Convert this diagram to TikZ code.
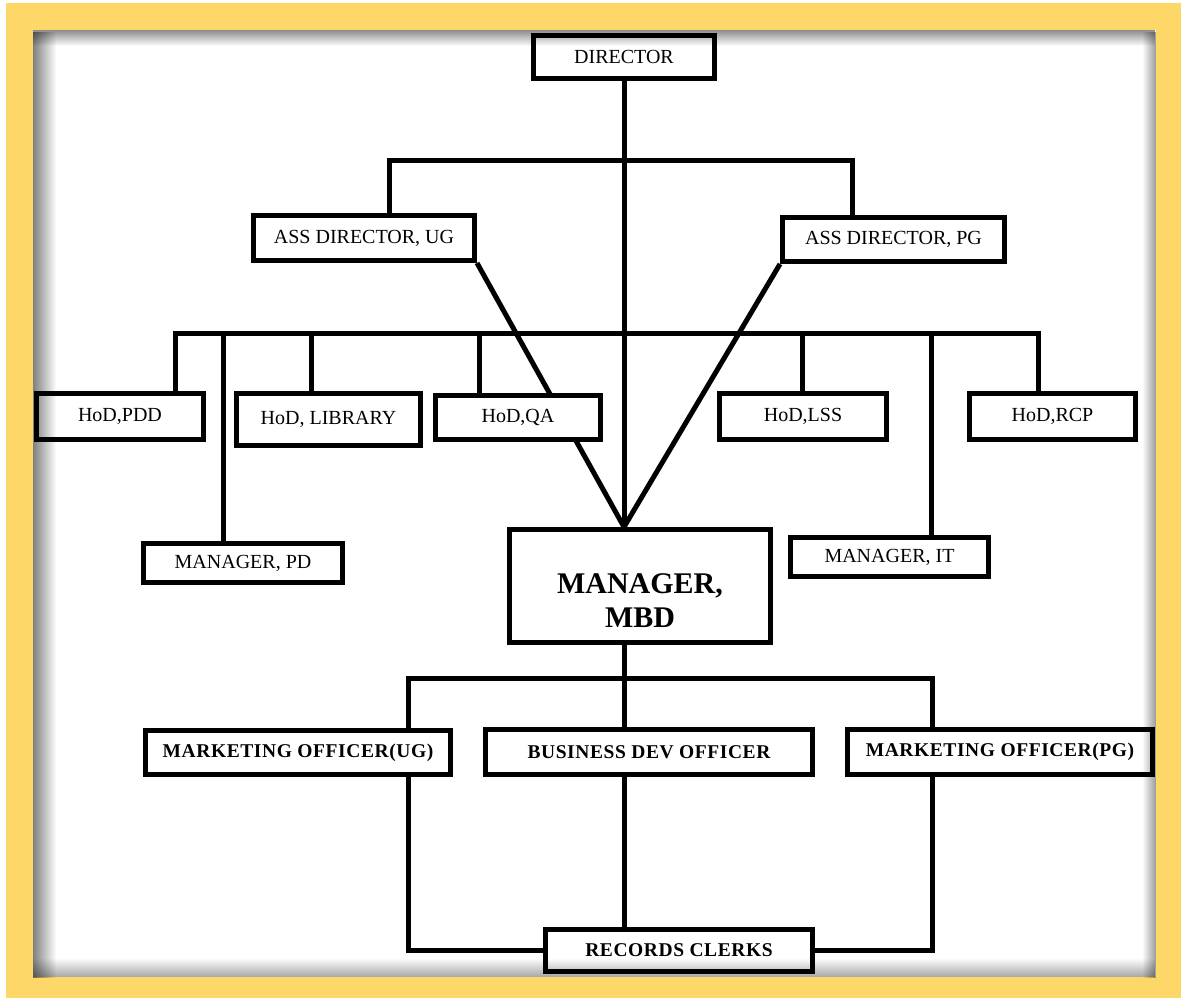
\documentclass[tikz,border=0pt]{standalone}
\usepackage{fontspec}
\setmainfont{Liberation Serif}
\newfontfamily\spacedserif[LetterSpace=3.0]{Liberation Serif}
\usetikzlibrary{fadings,backgrounds}
\definecolor{frameyellow}{RGB}{253,216,104}

% soft inner shadow along the edges of the white panel
\tikzfading[name=fadetop, top color=transparent!0, bottom color=transparent!100]
\tikzfading[name=fadebottom, top color=transparent!100, bottom color=transparent!0]
\tikzfading[name=fadeleft, left color=transparent!0, right color=transparent!100]
\tikzfading[name=faderight, left color=transparent!100, right color=transparent!0]

\begin{document}
\begin{tikzpicture}[x=1pt,y=-1pt,
  box/.style={draw, line width=5pt, fill=white, inner sep=0pt,
              font=\fontsize{20}{23}\selectfont},
  boldbox/.style={box, font=\spacedserif\bfseries\fontsize{19.5}{22}\selectfont},
  link/.style={line width=5pt, line cap=rect},
  diag/.style={line width=5pt}]

\useasboundingbox (0,0) rectangle (1181,998);

% ---- top management ----
\node[box, minimum width=181pt, minimum height=43pt] (dir) at (624,57) {DIRECTOR};
\node[box, minimum width=221pt, minimum height=45pt] (ug) at (364,238) {ASS DIRECTOR, UG};
\node[box, minimum width=222pt, minimum height=44pt] (pg) at (893.5,239.5) {ASS DIRECTOR, PG};

% ---- heads of department and managers ----
\node[box, minimum width=167pt, minimum height=46pt] (pdd) at (120,416.5) {HoD,PDD};
\node[box, minimum width=184pt, minimum height=52pt] (lib) at (328.5,419.5) {HoD, LIBRARY};
\node[box, minimum width=165pt, minimum height=44pt] (qa) at (518,417.5) {HoD,QA};
\node[box, minimum width=167pt, minimum height=46pt] (lss) at (803,416.5) {HoD,LSS};
\node[box, minimum width=166pt, minimum height=46pt] (rcp) at (1052.5,416.5) {HoD,RCP};
\node[box, minimum width=199pt, minimum height=39pt] (mpd) at (243,563) {MANAGER, PD};
\node[box, minimum width=198pt, minimum height=39pt] (mit) at (889.5,557) {MANAGER, IT};

\node[box, minimum width=261pt, minimum height=113pt, align=center,
      font=\bfseries\fontsize{30}{34}\selectfont] (mbd) at (640,586)
      {\rule{0pt}{50pt}MANAGER,\\MBD};

% ---- officers and clerks ----
\node[boldbox, minimum width=305pt, minimum height=44pt] (mkug) at (298,752.5) {MARKETING OFFICER(UG)};
\node[boldbox, minimum width=327pt, minimum height=45pt] (bdo) at (649,752) {BUSINESS DEV OFFICER};
\node[boldbox, minimum width=305pt, minimum height=45pt] (mkpg) at (1000,752) {MARKETING OFFICER(PG)};
\node[boldbox, minimum width=267pt, minimum height=42pt] (rc) at (679,950.5) {RECORDS CLERKS};

% junction points of the buses
\coordinate (ua) at (389,160);
\coordinate (pa) at (852,160);
\coordinate (b1) at (175,333);
\coordinate (b2) at (223,333);
\coordinate (b3) at (311,333);
\coordinate (b4) at (479,333);
\coordinate (b5) at (802,333);
\coordinate (b6) at (931,333);
\coordinate (b7) at (1038,333);
\coordinate (c1) at (408,678);
\coordinate (c2) at (624,678);
\coordinate (c3) at (932,678);

\begin{pgfonlayer}{background}
  % frame and panel
  \fill[frameyellow] (6,3) rectangle (1181,998);
  \fill[white] (33,30) rectangle (1156,977);

  % director and assistant directors
  \draw[link] (dir.south) -- (mbd.north -| dir.south);
  \draw[link] (ug.north -| ua) |- (pa) -- (pg.north -| pa);
  \draw[diag] (ug.south east) -- (mbd.north -| dir.south);
  \draw[diag] (pg.south west) -- (mbd.north -| dir.south);

  % department bus
  \draw[link] (b1) -- (b7);
  \draw[link] (b1) -- (pdd.north -| b1);
  \draw[link] (b2) -- (mpd.north -| b2);
  \draw[link] (b3) -- (lib.north -| b3);
  \draw[link] (b4) -- (qa.north -| b4);
  \draw[link] (b5) -- (lss.north -| b5);
  \draw[link] (b6) -- (mit.north -| b6);
  \draw[link] (b7) -- (rcp.north -| b7);

  % manager MBD to officers
  \draw[link] (mbd.south -| c2) -- (c2);
  \draw[link] (mkug.north -| c1) -- (c1) -- (c3) -- (mkpg.north -| c3);
  \draw[link] (c2) -- (bdo.north -| c2);

  % officers to records clerks
  \draw[link] (mkug.south -| c1) |- (rc.west);
  \draw[link] (mkpg.south -| c3) |- (rc.east);
  \draw[link] (bdo.south -| c2) -- (rc.north -| c2);
\end{pgfonlayer}

% inner shadow of the panel
\fill[black, opacity=0.45, path fading=fadetop] (33,30) rectangle (1156,46);
\fill[black, opacity=0.5, path fading=fadeleft] (33,30) rectangle (56,977);
\fill[black, opacity=0.4, path fading=faderight] (1142,30) rectangle (1156,977);
\fill[black, opacity=0.35, path fading=fadebottom] (33,958) rectangle (1156,977);

\end{tikzpicture}
\end{document}
